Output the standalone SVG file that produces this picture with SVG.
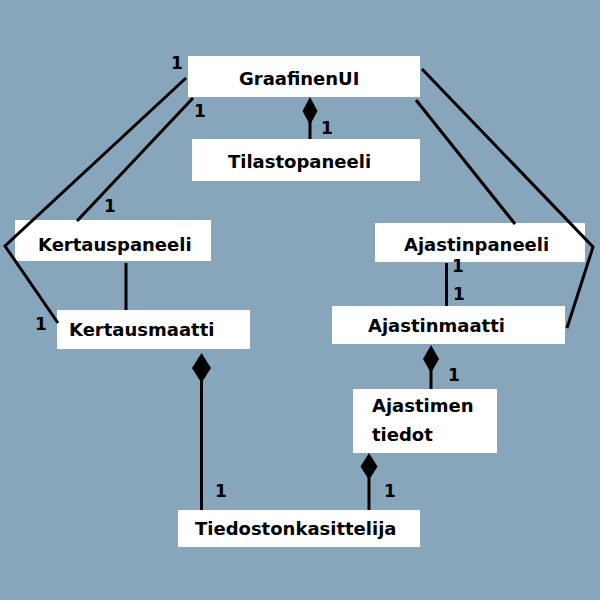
<svg xmlns="http://www.w3.org/2000/svg" width="600" height="600" viewBox="0 0 600 600">
<style>
.box{fill:#ffffff}
.t{font-family:"DejaVu Sans",sans-serif;font-weight:bold;font-size:18px;fill:#000}
.m{font-family:"DejaVu Sans",sans-serif;font-weight:bold;font-size:17px;fill:#000;text-anchor:middle}
.c line,.c polyline{stroke:#000;stroke-width:3;fill:none}
.d{fill:#000}
</style>
<rect width="600" height="600" fill="#87a6bb"/>
<g id="GraafinenUI"><rect class="box" x="188" y="56" width="232" height="41"/><text class="t" x="239" y="85">GraafinenUI</text></g>
<g id="Tilastopaneeli"><rect class="box" x="192" y="139" width="228" height="42"/><text class="t" x="228" y="168">Tilastopaneeli</text></g>
<g id="Kertauspaneeli"><rect class="box" x="15" y="220" width="196" height="41"/><text class="t" x="38" y="251">Kertauspaneeli</text></g>
<g id="Kertausmaatti"><rect class="box" x="57" y="310" width="193" height="39"/><text class="t" x="69" y="336">Kertausmaatti</text></g>
<g id="Ajastinpaneeli"><rect class="box" x="375" y="223" width="210" height="39"/><text class="t" x="404" y="251">Ajastinpaneeli</text></g>
<g id="Ajastinmaatti"><rect class="box" x="332" y="306" width="233" height="38"/><text class="t" x="368" y="332">Ajastinmaatti</text></g>
<g id="AjastimenTiedot"><rect class="box" x="353" y="389" width="144" height="64"/><text class="t" x="372" y="412">Ajastimen</text><text class="t" x="372" y="441">tiedot</text></g>
<g id="Tiedostonkasittelija"><rect class="box" x="178" y="510" width="242" height="37"/><text class="t" x="195" y="535">Tiedostonkasittelija</text></g>
<g id="connectors" class="c">
<polyline points="186,78 5,246 58,323"/>
<line x1="193" y1="98" x2="77" y2="221"/>
<line x1="310" y1="110" x2="310" y2="139"/>
<polygon class="d" points="310,97 317.5,111 310,125 302.5,111"/>
<polyline points="422,69 593,247 567,328"/>
<line x1="416" y1="100" x2="515" y2="224"/>
<line x1="446.5" y1="263" x2="446.5" y2="306"/>
<line x1="431" y1="360" x2="431" y2="389"/>
<polygon class="d" points="431,345 439,359 431,373 423,359"/>
<line x1="126" y1="263" x2="126" y2="310"/>
<line x1="201.5" y1="368" x2="201.5" y2="510"/>
<polygon class="d" points="201.5,353 211,368 201.5,383 192,368"/>
<line x1="369" y1="466" x2="369" y2="510"/>
<polygon class="d" points="369,453 377.5,466.5 369,480 360.5,466.5"/>
</g>
<g id="labels">
<text class="m" x="177" y="69">1</text>
<text class="m" x="200" y="117">1</text>
<text class="m" x="110" y="212">1</text>
<text class="m" x="41" y="330">1</text>
<text class="m" x="327" y="134">1</text>
<text class="m" x="458" y="272">1</text>
<text class="m" x="459" y="300">1</text>
<text class="m" x="454" y="381">1</text>
<text class="m" x="221" y="497">1</text>
<text class="m" x="390" y="497">1</text>
</g>
</svg>
